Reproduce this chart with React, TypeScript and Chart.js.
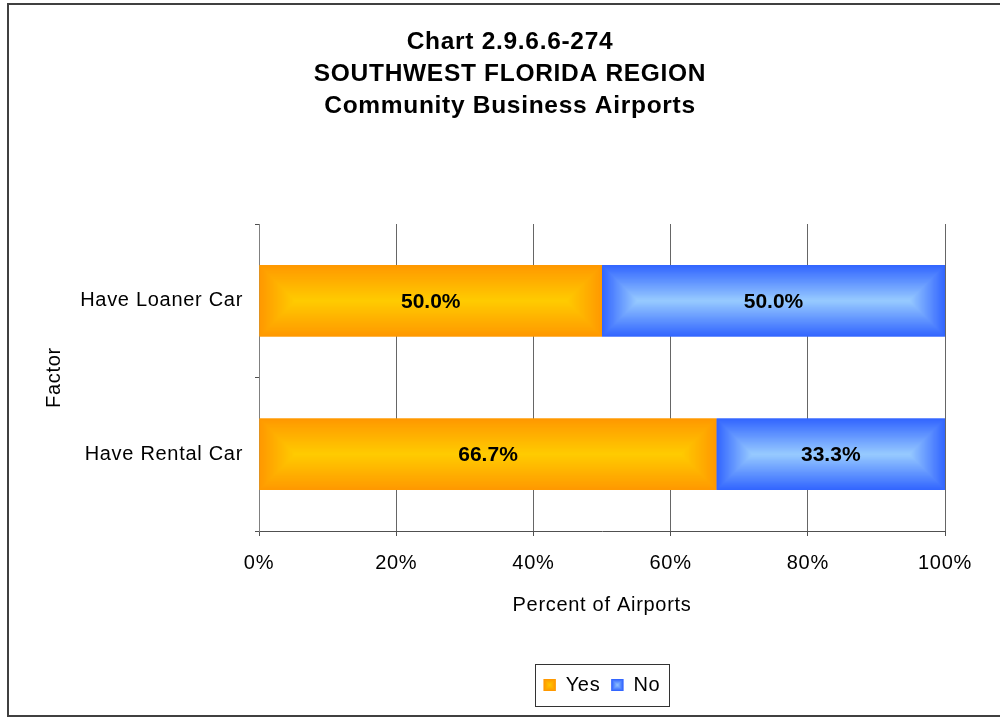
import React, { useEffect, useRef } from "react";
import { Chart, registerables } from "chart.js";

Chart.register(...registerables);

// ---- data ----
const TITLE_LINES = ["Chart 2.9.6.6-274", "SOUTHWEST FLORIDA REGION", "Community Business Airports"];
const CATEGORIES = ["Have Loaner Car", "Have Rental Car"];
const SERIES_NAMES = ["Yes", "No"];
const YES_VALUES = [50.0, 66.7];
const NO_VALUES = [50.0, 33.3];
const X_TICKS = [0, 20, 40, 60, 80, 100];
const X_TITLE = "Percent of Airports";
const Y_TITLE = "Factor";

const FONT = "'Liberation Sans', Arial, Helvetica, sans-serif";
const SPACING = "0.7px";
const LABEL_SIZE = 20;

const EDGE_COLORS = [
  [255, 153, 0],
  [51, 102, 255],
];
const CENTER_COLORS = [
  [255, 204, 0],
  [153, 204, 255],
];

function rgb(c: number[]) {
  return `rgb(${Math.round(c[0])},${Math.round(c[1])},${Math.round(c[2])})`;
}

function fillCenterGradient(
  ctx: CanvasRenderingContext2D,
  left: number,
  top: number,
  w: number,
  h: number,
  edge: number[],
  center: number[]
) {
  const half = Math.min(w, h) / 2;
  const steps = Math.max(1, Math.ceil(half));
  for (let i = 0; i < steps; i++) {
    const t = i / steps;
    const inset = t * half;
    const c = [0, 1, 2].map((k) => edge[k] + (center[k] - edge[k]) * t);
    ctx.fillStyle = rgb(c);
    ctx.fillRect(left + inset, top + inset, w - 2 * inset, h - 2 * inset);
  }
}

const spacingPlugin = {
  id: "spacing",
  beforeUpdate(chart: any) {
    (chart.ctx as any).letterSpacing = SPACING;
  },
  beforeDraw(chart: any) {
    (chart.ctx as any).letterSpacing = SPACING;
  },
};

const barDecorPlugin = {
  id: "barDecor",
  afterDatasetsDraw(chart: any) {
    const ctx: CanvasRenderingContext2D = chart.ctx;
    ctx.save();
    chart.data.datasets.forEach((ds: any, di: number) => {
      const meta = chart.getDatasetMeta(di);
      meta.data.forEach((el: any) => {
        const p = el.getProps(["x", "y", "base", "height"], true);
        const left = Math.min(p.x, p.base);
        const right = Math.max(p.x, p.base);
        fillCenterGradient(ctx, left, p.y - p.height / 2, right - left, p.height, EDGE_COLORS[di], CENTER_COLORS[di]);
      });
    });
    (ctx as any).letterSpacing = "0px";
    ctx.font = `bold 21px ${FONT}`;
    ctx.fillStyle = "#000";
    ctx.textAlign = "center";
    ctx.textBaseline = "middle";
    chart.data.datasets.forEach((ds: any, di: number) => {
      const meta = chart.getDatasetMeta(di);
      meta.data.forEach((el: any, i: number) => {
        const p = el.getProps(["x", "y", "base"], true);
        const v = ds.data[i];
        ctx.fillText(v.toFixed(1) + "%", (p.x + p.base) / 2, p.y + 1);
      });
    });
    ctx.restore();
  },
  afterDraw(chart: any) {
    const ctx: CanvasRenderingContext2D = chart.ctx;
    ctx.save();
    // legend markers + frame
    const hbs = chart.legend?.legendHitBoxes || [];
    if (hbs.length) {
      const fontSize = LABEL_SIZE;
      let minL = Infinity;
      let maxR = -Infinity;
      hbs.forEach((hb: any, i: number) => {
        const bx = hb.left;
        const by = hb.top + (fontSize - 12) / 2;
        fillCenterGradient(ctx, bx, by, 12, 12, EDGE_COLORS[i], CENTER_COLORS[i]);
        minL = Math.min(minL, hb.left);
        maxR = Math.max(maxR, hb.left + hb.width);
      });
      const cy = hbs[0].top + fontSize / 2;
      ctx.strokeStyle = "#333";
      ctx.lineWidth = 1;
      ctx.strokeRect(Math.round(minL - 9) + 0.5, Math.round(cy - 21) + 0.5, Math.round(maxR - minL + 17), 42);
    }
    // outer frame
    ctx.strokeStyle = "#404040";
    ctx.lineWidth = 2;
    ctx.strokeRect(8, 4, 1100, 712);
    ctx.restore();
  },
};

export default function App() {
  const canvasRef = useRef<HTMLCanvasElement | null>(null);

  useEffect(() => {
    const canvas = canvasRef.current;
    if (!canvas) return;
    const chart = new Chart(canvas, {
      type: "bar",
      data: {
        labels: CATEGORIES,
        datasets: [
          {
            label: SERIES_NAMES[0],
            data: YES_VALUES,
            backgroundColor: rgb(EDGE_COLORS[0]),
            borderWidth: 0,
            barPercentage: 1,
            categoryPercentage: 0.465,
          },
          {
            label: SERIES_NAMES[1],
            data: NO_VALUES,
            backgroundColor: rgb(EDGE_COLORS[1]),
            borderWidth: 0,
            barPercentage: 1,
            categoryPercentage: 0.465,
          },
        ],
      },
      options: {
        indexAxis: "y",
        responsive: false,
        animation: false,
        events: [],
        font: { family: FONT, size: LABEL_SIZE },
        layout: { padding: { left: 75, right: 55, top: 0, bottom: 12 } },
        scales: {
          x: {
            stacked: true,
            min: 0,
            max: 100,
            afterBuildTicks: (scale: any) => {
              scale.ticks = X_TICKS.map((v) => ({ value: v }));
            },
            afterFit: (scale: any) => {
              scale.height = 133;
            },
            ticks: {
              color: "#000",
              font: { family: FONT, size: LABEL_SIZE },
              padding: 15,
              maxRotation: 0,
              callback: (v: any) => `${v}%`,
            },
            grid: {
              color: "#666",
              lineWidth: 1,
              drawTicks: true,
              tickLength: 5,
              tickColor: "#505050",
            },
            border: { display: true, color: "#505050", width: 1 },
            title: {
              display: true,
              text: X_TITLE,
              color: "#000",
              font: { family: FONT, size: LABEL_SIZE },
              padding: { top: 0, bottom: 47 },
            },
          },
          y: {
            stacked: true,
            afterFit: (scale: any) => {
              scale.width = 184;
            },
            ticks: {
              color: "#000",
              font: { family: FONT, size: LABEL_SIZE },
              padding: 12,
            },
            grid: {
              offset: true,
              drawOnChartArea: false,
              drawTicks: true,
              tickLength: 4,
              tickColor: "#505050",
            },
            border: { display: true, color: "#808080", width: 1 },
            title: {
              display: true,
              text: Y_TITLE,
              color: "#000",
              font: { family: FONT, size: LABEL_SIZE },
              padding: { top: -33, bottom: 0 },
            },
          },
        },
        plugins: {
          title: {
            display: true,
            text: TITLE_LINES,
            color: "#000",
            font: { family: FONT, size: 24.5, weight: "bold", lineHeight: 32 / 24.5 },
            padding: { top: 26, bottom: 102 },
          },
          legend: {
            display: true,
            position: "bottom",
            fullSize: false,
            labels: {
              color: "#000",
              font: { family: FONT, size: LABEL_SIZE },
              boxWidth: 12,
              boxHeight: 12,
              padding: 11,
            },
          },
          tooltip: { enabled: false },
        },
      },
      plugins: [spacingPlugin, barDecorPlugin],
    } as any);
    return () => chart.destroy();
  }, []);

  return (
    <div
      style={{
        position: "absolute",
        left: 0,
        top: 0,
        width: 1000,
        height: 717,
        overflow: "hidden",
        background: "#fff",
      }}
    >
      <canvas ref={canvasRef} width={1000} height={717} style={{ display: "block" }} />
    </div>
  );
}
